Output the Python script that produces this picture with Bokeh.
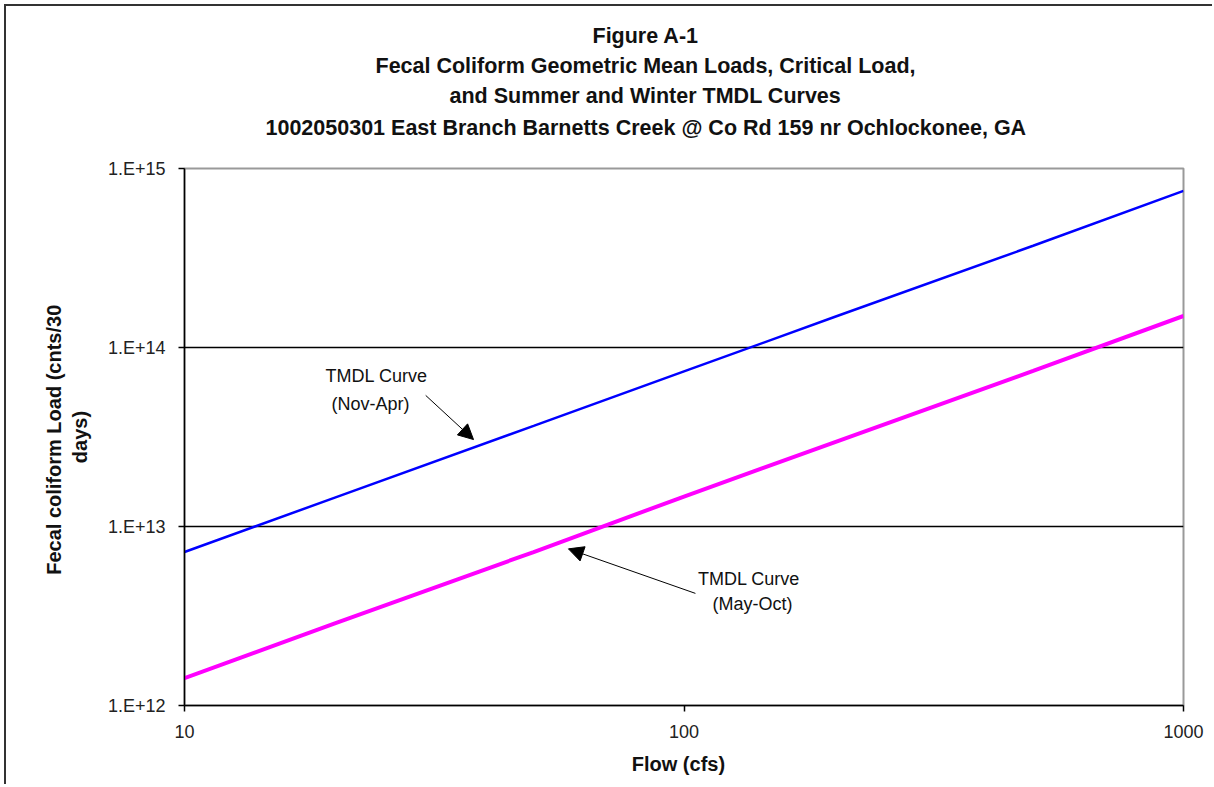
from bokeh.plotting import figure
from bokeh.models import (Range1d, FixedTicker, CustomJSTickFormatter, Label, Arrow,
                          NormalHead, Title)
from bokeh.embed import file_html
from bokeh.resources import INLINE

# ---- data ----
flow = [10, 20, 50, 100, 200, 500, 1000]
tmdl_winter = [7.2e12, 1.45e13, 3.65e13, 7.35e13, 1.48e14, 3.7e14, 7.5e14]   # Nov-Apr
tmdl_summer = [1.42e12, 2.88e12, 7.2e12, 1.47e13, 2.95e13, 7.4e13, 1.5e14]  # May-Oct
x_ticks = [10, 100, 1000]
y_ticks = [1e12, 1e13, 1e14, 1e15]
title_lines = ["Figure A-1",
               "Fecal Coliform Geometric Mean Loads,  Critical Load,",
               "and Summer and Winter TMDL Curves",
               "1002050301 East Branch Barnetts Creek @ Co Rd 159 nr Ochlockonee, GA"]

FONT = "Liberation Sans"

p = figure(width=1208, height=780, x_axis_type="log", y_axis_type="log",
           x_range=Range1d(10, 1000), y_range=Range1d(1e12, 1e15),
           output_backend="svg", toolbar_location=None, title=None,
           min_border_left=178, min_border_right=31, min_border_top=162, min_border_bottom=81,
           background_fill_color="white", border_fill_color="white")
p.styles = {"border-left": "2px solid #333", "border-top": "2px solid #333",
            "margin-left": "4px", "margin-top": "4px"}

p.outline_line_color = "#999999"
p.outline_line_width = 2

p.line(flow, tmdl_winter, line_color="#0000ff", line_width=2.5)
p.line(flow, tmdl_summer, line_color="#ff00ff", line_width=4)

# axes
for ax in (p.xaxis[0], p.yaxis[0]):
    ax.axis_line_color = "black"
    ax.axis_line_width = 1.5
    ax.major_tick_line_color = "black"
    ax.major_tick_line_width = 1.5
    ax.major_tick_out = 6
    ax.major_tick_in = 0
    ax.minor_tick_line_color = None
    ax.major_label_text_font = FONT
    ax.major_label_text_font_size = "18px"
    ax.major_label_text_color = "#222222"
    ax.axis_label_text_font = FONT
    ax.axis_label_text_font_style = "bold"
    ax.axis_label_text_font_size = "20px"
    ax.axis_label_text_color = "#111111"

p.xaxis.ticker = FixedTicker(ticks=x_ticks)
p.xaxis.formatter = CustomJSTickFormatter(code="return String(Math.round(tick));")
p.xaxis.major_label_standoff = 13
p.xaxis.axis_label = "Flow   (cfs)"
p.xaxis.axis_label_standoff = 12

p.yaxis.ticker = FixedTicker(ticks=y_ticks)
p.yaxis.formatter = CustomJSTickFormatter(code="return '1.E+' + Math.round(Math.log10(tick));")
p.yaxis.major_label_standoff = 13
p.yaxis.axis_label = "Fecal coliform Load  (cnts/30\ndays)"
p.yaxis.axis_label_standoff = 14

p.xgrid.visible = False
p.ygrid.ticker = FixedTicker(ticks=[1e13, 1e14])
p.ygrid.grid_line_color = "black"
p.ygrid.grid_line_width = 1.5

# blank spacer between the frame and the title block
p.add_layout(Title(text=" ", standoff=0, text_font=FONT, text_font_size="21px"), "above")

# title lines: innermost first
title_offsets = [408, 191, 265, 81]
title_standoffs = [4, 4, 4, 8]
for i in [3, 2, 1, 0]:
    p.add_layout(Title(text=title_lines[i], align="left", offset=title_offsets[i],
                       standoff=title_standoffs[i],
                       text_font=FONT, text_font_style="bold", text_font_size="21.5px",
                       text_color="#111111"), "above")

# annotations
ann_text = ["TMDL Curve", "(Nov-Apr)", "TMDL Curve", "(May-Oct)"]
ann_x = [24.24, 23.57, 134.9, 137.1]
ann_y = [6.89e13, 4.86e13, 5.06e12, 3.71e12]
for t, xx, yy in zip(ann_text, ann_x, ann_y):
    p.add_layout(Label(x=xx, y=yy, text=t, text_align="center", text_baseline="middle",
                       text_font=FONT, text_font_size="18px", text_color="#111111"))

arrow_x0 = [30.4, 105.4]
arrow_y0 = [5.4e13, 4.23e12]
arrow_x1 = [37.9, 58.7]
arrow_y1 = [3.06e13, 7.5e12]
for a, b, c, d in zip(arrow_x0, arrow_y0, arrow_x1, arrow_y1):
    p.add_layout(Arrow(x_start=a, y_start=b, x_end=c, y_end=d, line_color="black",
                       line_width=1,
                       end=NormalHead(size=15, fill_color="black", line_color="black")))

open("out.html", "w").write(file_html(p, INLINE))
